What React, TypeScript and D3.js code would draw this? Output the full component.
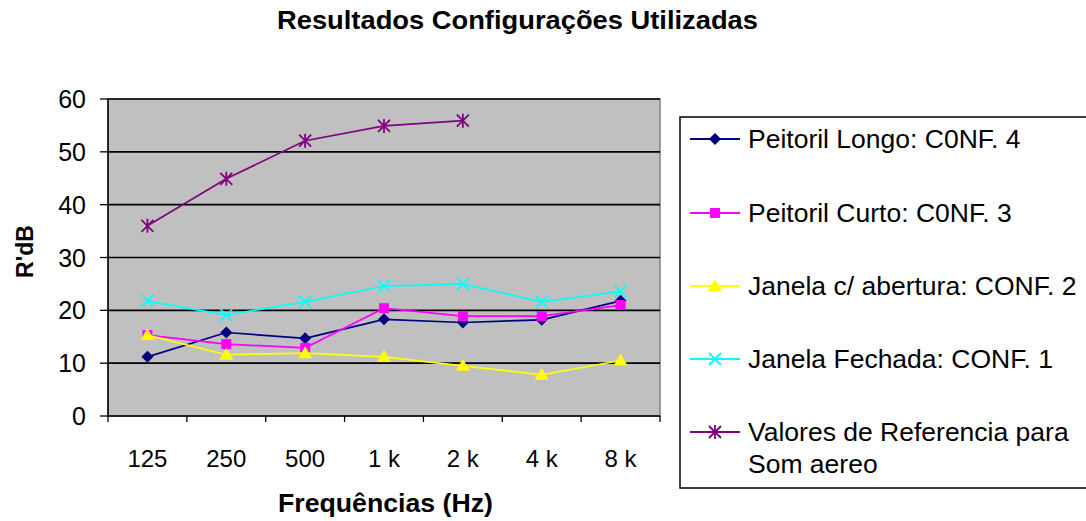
import React from "react";
import * as d3 from "d3";

const categories = ["125", "250", "500", "1 k", "2 k", "4 k", "8 k"];
const yTicks = [0, 10, 20, 30, 40, 50, 60];

const peitorilLongo = [11.2, 15.8, 14.7, 18.3, 17.7, 18.2, 21.8];
const peitorilCurto = [15.3, 13.6, 12.9, 20.4, 18.9, 18.9, 21.0];
const janelaAbertura = [15.3, 11.6, 11.9, 11.2, 9.5, 7.8, 10.5];
const janelaFechada = [21.8, 19.1, 21.6, 24.6, 25.0, 21.6, 23.6];
const valoresReferencia: (number | null)[] = [36, 44.9, 52.1, 54.9, 55.9, null, null];

const seriesNames = [
  "Peitoril Longo: C0NF. 4",
  "Peitoril Curto: C0NF. 3",
  "Janela c/ abertura: CONF. 2",
  "Janela Fechada: CONF. 1",
  "Valores de Referencia para\nSom aereo",
];

type Series = { name: string; values: (number | null)[]; color: string; marker: string };

const series: Series[] = [
  { name: seriesNames[0], values: peitorilLongo, color: "#000080", marker: "diamond" },
  { name: seriesNames[1], values: peitorilCurto, color: "#FF00FF", marker: "square" },
  { name: seriesNames[2], values: janelaAbertura, color: "#FFFF00", marker: "triangle" },
  { name: seriesNames[3], values: janelaFechada, color: "#00FFFF", marker: "x" },
  { name: seriesNames[4], values: valoresReferencia, color: "#800080", marker: "star" },
];

const FONT = "Liberation Sans, Arial, sans-serif";

function Marker({ type, x, y, color }: { type: string; x: number; y: number; color: string }) {
  switch (type) {
    case "diamond":
      return <path d={`M${x},${y - 6}L${x + 6},${y}L${x},${y + 6}L${x - 6},${y}Z`} fill={color} />;
    case "square":
      return <rect x={x - 5} y={y - 5} width={10} height={10} fill={color} />;
    case "triangle":
      return <path d={`M${x},${y - 7}L${x + 7},${y + 5}L${x - 7},${y + 5}Z`} fill={color} />;
    case "x":
      return (
        <path d={`M${x - 6},${y - 6}L${x + 6},${y + 6}M${x - 6},${y + 6}L${x + 6},${y - 6}`} stroke={color} strokeWidth={1.8} />
      );
    case "star":
      return (
        <path
          d={`M${x - 6},${y - 6}L${x + 6},${y + 6}M${x - 6},${y + 6}L${x + 6},${y - 6}M${x},${y - 7}L${x},${y + 7}`}
          stroke={color}
          strokeWidth={1.8}
        />
      );
    default:
      return null;
  }
}

export default function App() {
  const W = 1086;
  const H = 521;
  const left = 108;
  const right = 660;
  const top = 99;
  const bottom = 416;

  const x = d3.scaleBand<string>().domain(categories).range([left, right]);
  const y = d3.scaleLinear().domain([0, 60]).range([bottom, top]);

  const line = d3
    .line<number | null>()
    .defined((d) => d !== null)
    .x((_, i) => (x(categories[i]) as number) + x.bandwidth() / 2)
    .y((d) => y(d as number));

  const legendRows = [139, 213, 286, 359, 432];

  return (
    <svg
      width={W}
      height={H}
      style={{ position: "absolute", left: 0, top: 0, background: "#fff" }}
      fontFamily={FONT}
    >
      <text x={517.5} y={29} textAnchor="middle" fontSize={25} fontWeight="bold" fill="#000" textLength={481} lengthAdjust="spacingAndGlyphs">
        Resultados Configurações Utilizadas
      </text>

      <rect x={left} y={top} width={right - left} height={bottom - top} fill="#C0C0C0" stroke="#808080" strokeWidth={1.5} />

      {yTicks.map((t) => (
        <g key={t}>
          {t > 0 && <line x1={left} x2={right} y1={y(t)} y2={y(t)} stroke="#000" strokeWidth={1.6} />}
          <line x1={left - 8} x2={left} y1={y(t)} y2={y(t)} stroke="#000" strokeWidth={1.3} />
          <text x={86} y={y(t) + 9} textAnchor="end" fontSize={25} fill="#000">
            {t}
          </text>
        </g>
      ))}
      <line x1={left} x2={left} y1={top} y2={bottom} stroke="#000" strokeWidth={1.5} />
      <line x1={left} x2={right} y1={bottom} y2={bottom} stroke="#000" strokeWidth={1.5} />

      {[...categories.map((c) => x(c) as number), right].map((px, i) => (
        <line key={i} x1={px} x2={px} y1={bottom} y2={bottom + 6} stroke="#000" strokeWidth={1.3} />
      ))}
      {categories.map((c) => (
        <text key={c} x={(x(c) as number) + x.bandwidth() / 2} y={467} textAnchor="middle" fontSize={24} fill="#000">
          {c}
        </text>
      ))}

      <text x={385.5} y={512} textAnchor="middle" fontSize={25} fontWeight="bold" fill="#000" textLength={215} lengthAdjust="spacingAndGlyphs">
        Frequências (Hz)
      </text>
      <text
        transform={`translate(33,251.5) rotate(-90)`}
        textAnchor="middle"
        fontSize={23}
        fontWeight="bold"
        fill="#000"
      >
        R'dB
      </text>

      {series.map((s) => (
        <g key={s.name}>
          <path d={line(s.values) || ""} fill="none" stroke={s.color} strokeWidth={1.7} />
          {s.values.map((v, i) =>
            v === null ? null : (
              <Marker key={i} type={s.marker} x={(x(categories[i]) as number) + x.bandwidth() / 2} y={y(v)} color={s.color} />
            )
          )}
        </g>
      ))}

      <rect x={680} y={117} width={420} height={371} fill="#fff" stroke="#000" strokeWidth={1.5} />
      {series.map((s, i) => {
        const ly = legendRows[i];
        const lines = s.name.split("\n");
        return (
          <g key={s.name}>
            <line x1={690} x2={740} y1={ly} y2={ly} stroke={s.color} strokeWidth={1.8} />
            <Marker type={s.marker} x={715} y={ly} color={s.color} />
            {lines.map((ln, j) => (
              <text key={j} x={748} y={ly + 9 + j * 32} fontSize={26.5} fill="#000">
                {ln}
              </text>
            ))}
          </g>
        );
      })}
    </svg>
  );
}
